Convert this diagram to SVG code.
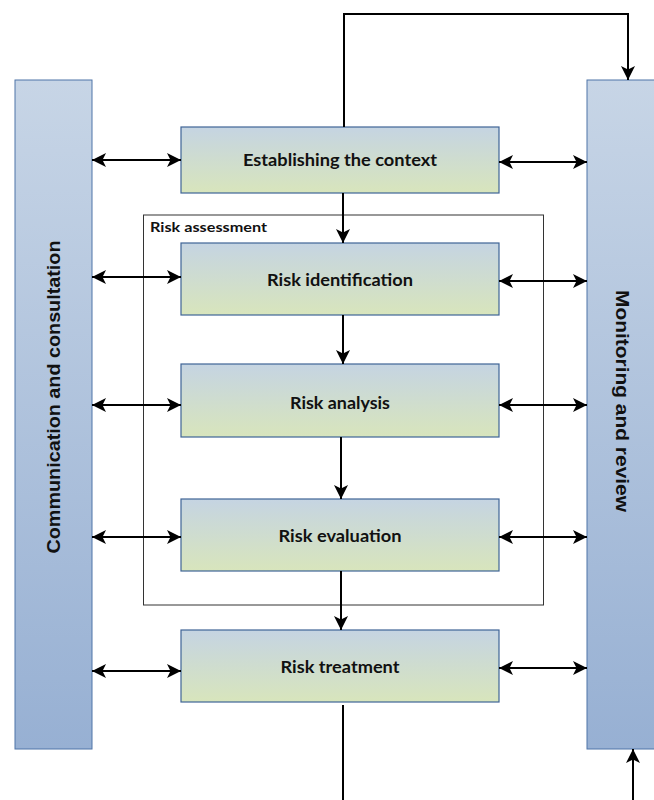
<svg xmlns="http://www.w3.org/2000/svg" width="654" height="800" viewBox="0 0 654 800">
<defs>
  <linearGradient id="gBar" x1="0" y1="0" x2="0" y2="1">
    <stop offset="0" stop-color="#c7d5e6"/>
    <stop offset="1" stop-color="#97b0d3"/>
  </linearGradient>
  <linearGradient id="gBox" x1="0" y1="0" x2="0" y2="1">
    <stop offset="0" stop-color="#c5d4e2"/>
    <stop offset="1" stop-color="#d8e5bc"/>
  </linearGradient>
  <marker id="ah" viewBox="0 0 14 14" refX="14" refY="7" markerWidth="14" markerHeight="14" markerUnits="userSpaceOnUse" orient="auto-start-reverse">
    <path d="M0,0 L14,7 L0,14 L3.5,7 Z" fill="#000"/>
  </marker>
  <style>
    .bar{fill:url(#gBar);stroke:#4f74a8;stroke-width:1}
    .box{fill:url(#gBox);stroke:#3f6496;stroke-width:1.2}
    .lbl{font-family:Lato,"Liberation Sans",sans-serif;font-weight:bold;font-size:17px;fill:#111;text-anchor:middle;dominant-baseline:central}
    .vlbl{font-family:"Liberation Sans",Arial,sans-serif;font-weight:bold;font-size:19px;fill:#111;text-anchor:middle;dominant-baseline:central}
    .ln{fill:none;stroke:#000;stroke-width:2}
    .arr{marker-end:url(#ah)}
    .dbl{marker-start:url(#ah);marker-end:url(#ah)}
  </style>
</defs>
<g id="assessment">
  <rect x="143.5" y="215" width="400" height="390" fill="none" stroke="#333" stroke-width="1"/>
  <text x="150" y="226" font-family="Lato,'Liberation Sans',sans-serif" font-weight="bold" font-size="14" fill="#111" dominant-baseline="central" textLength="117" lengthAdjust="spacingAndGlyphs">Risk assessment</text>
</g>
<g id="communication">
  <rect class="bar" x="15" y="80" width="77" height="669"/>
  <text class="vlbl" transform="translate(53,397) rotate(-90)" textLength="313" lengthAdjust="spacingAndGlyphs">Communication and consultation</text>
</g>
<g id="monitoring">
  <rect class="bar" x="587" y="80" width="70" height="669"/>
  <text class="vlbl" transform="translate(622,401) rotate(90)" textLength="222" lengthAdjust="spacingAndGlyphs">Monitoring and review</text>
</g>
<g id="context">
  <rect class="box" x="181" y="127" width="318" height="66"/>
  <text class="lbl" x="340" y="159" textLength="194" lengthAdjust="spacingAndGlyphs">Establishing the context</text>
</g>
<g id="identification">
  <rect class="box" x="181" y="243" width="318" height="72"/>
  <text class="lbl" x="340" y="279" textLength="146" lengthAdjust="spacingAndGlyphs">Risk identification</text>
</g>
<g id="analysis">
  <rect class="box" x="181" y="364" width="318" height="73"/>
  <text class="lbl" x="340" y="402" textLength="100" lengthAdjust="spacingAndGlyphs">Risk analysis</text>
</g>
<g id="evaluation">
  <rect class="box" x="181" y="499" width="318" height="72"/>
  <text class="lbl" x="340" y="535" textLength="123" lengthAdjust="spacingAndGlyphs">Risk evaluation</text>
</g>
<g id="treatment">
  <rect class="box" x="181" y="630" width="318" height="72"/>
  <text class="lbl" x="340" y="666" textLength="119" lengthAdjust="spacingAndGlyphs">Risk treatment</text>
</g>
<g id="connectors">
  <path class="ln arr" d="M344,127 V14 H628 V80"/>
  <path class="ln arr" d="M343,193 V243"/>
  <path class="ln arr" d="M343,315 V364"/>
  <path class="ln arr" d="M341,437 V499"/>
  <path class="ln arr" d="M341,605 V630"/>
  <path class="ln" d="M341,571 V605"/>
  <path class="ln" d="M343,705 V800"/>
  <path class="ln arr" d="M633,800 V749"/>
  <path class="ln dbl" d="M92,160 H181"/>
  <path class="ln dbl" d="M92,277 H181"/>
  <path class="ln dbl" d="M92,405 H181"/>
  <path class="ln dbl" d="M92,537 H181"/>
  <path class="ln dbl" d="M92,671 H181"/>
  <path class="ln dbl" d="M499,162 H587"/>
  <path class="ln dbl" d="M499,281 H587"/>
  <path class="ln dbl" d="M499,405 H587"/>
  <path class="ln dbl" d="M499,537 H587"/>
  <path class="ln dbl" d="M499,668 H587"/>
</g>
</svg>
